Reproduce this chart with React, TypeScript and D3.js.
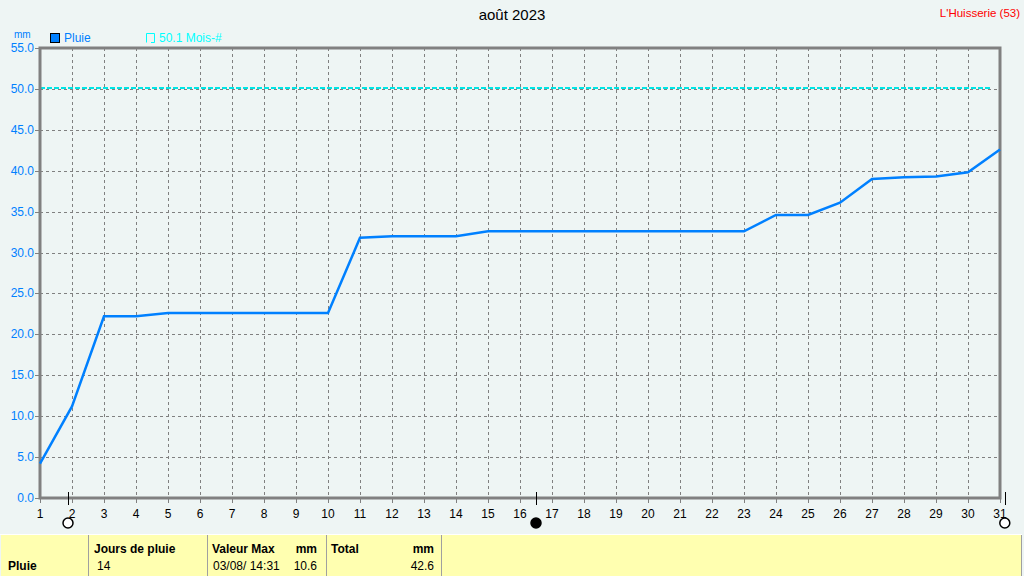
import React from "react";
import * as d3 from "d3";

const days = d3.range(1, 32);
const rain = [4.2, 11.2, 22.2, 22.2, 22.6, 22.6, 22.6, 22.6, 22.6, 22.6, 31.8, 32.0, 32.0, 32.0, 32.6, 32.6, 32.6, 32.6, 32.6, 32.6, 32.6, 32.6, 32.6, 34.6, 34.6, 36.1, 39.0, 39.2, 39.3, 39.8, 42.6];
const normalValue = 50.1;
const yTicks = d3.range(0, 55.01, 5);
const moonPhases = [
  { day: 1.875, filled: false },
  { day: 16.5, filled: true },
  { day: 31.15, filled: false },
];
const tableCols = [
  { header: "Jours de pluie", value: "14" },
];

const W = 1024, H = 576;
const FONT = "'Liberation Sans', Arial, sans-serif";

export default function App() {
  const x = d3.scaleLinear().domain([1, 31]).range([40, 1000]);
  const y = d3.scaleLinear().domain([0, 55]).range([498, 48]);
  const line = d3.line<number>().x((_, i) => x(days[i])).y(d => y(d));
  const grid = "#808080";
  return (
    <svg width={W} height={H} style={{ position: "absolute", left: 0, top: 0, display: "block" }} fontFamily={FONT}>
      <rect x={0} y={0} width={W} height={H} fill="#EEF5F4" />
      <text x={512} y={20} textAnchor="middle" fontSize={15} fill="#000">août 2023</text>
      <text x={1020} y={17} textAnchor="end" fontSize={11.5} fill="#FF0000">L'Huisserie (53)</text>
      <text x={14} y={38} fontSize={10} fill="#0080FF">mm</text>
      <rect x={50.5} y={33.5} width={9} height={9} fill="#0080FF" stroke="#000" />
      <text x={64} y={42} fontSize={12} fill="#0080FF">Pluie</text>
      <path d="M146.5,42.5 V33.5 H154.5 V42.5 M151,42.5 H154.5" fill="none" stroke="#00FFFF" />
      <text x={159} y={42} fontSize={12} fill="#00FFFF">50.1 Mois-#</text>

      {yTicks.map(t => (
        <g key={t}>
          {t > 0 && t < 55 && (
            <line x1={40} x2={1000} y1={Math.round(y(t)) + 0.5} y2={Math.round(y(t)) + 0.5} stroke={grid} strokeDasharray="3,3" />
          )}
          <line x1={35} x2={40} y1={Math.round(y(t)) + 0.5} y2={Math.round(y(t)) + 0.5} stroke={grid} />
          <text x={34} y={y(t) + 4} textAnchor="end" fontSize={12} fill="#0080FF">{t.toFixed(1)}</text>
        </g>
      ))}
      {days.map(d => (
        <g key={d}>
          {d > 1 && d < 31 && (
            <line x1={x(d) + 0.5} x2={x(d) + 0.5} y1={48} y2={498} stroke={grid} strokeDasharray="3,3" />
          )}
          <line x1={x(d) + 0.5} x2={x(d) + 0.5} y1={498} y2={503} stroke={grid} />
          <text x={x(d)} y={518} textAnchor="middle" fontSize={12} fill="#000">{d}</text>
        </g>
      ))}
      <line x1={40} x2={990} y1={y(normalValue)} y2={y(normalValue)} stroke="#00E5E5" strokeWidth={2} strokeDasharray="5,2" />
      <rect x={40} y={48} width={960} height={450} fill="none" stroke={grid} strokeWidth={3} />
      <path d={line(rain) || ""} fill="none" stroke="#0080FF" strokeWidth={2.5} />

      {moonPhases.map((m, i) => (
        <g key={i}>
          <line x1={Math.round(x(m.day)) + 0.5} x2={Math.round(x(m.day)) + 0.5} y1={492} y2={505} stroke="#000" />
          <circle cx={x(m.day)} cy={523} r={5} fill={m.filled ? "#000" : "#fff"} stroke="#000" strokeWidth={1.5} />
        </g>
      ))}

      <rect x={1} y={534} width={1021} height={42} fill="#FFFFB0" />
      <line x1={0} x2={1022} y1={534.5} y2={534.5} stroke="#fff" />
      {[88, 207, 326, 441, 1021].map(cx => (
        <line key={cx} x1={cx + 0.5} x2={cx + 0.5} y1={535} y2={576} stroke="#A0A0A0" />
      ))}
      <text x={8} y={570} fontSize={12} fontWeight="bold">Pluie</text>
      {tableCols.map((c, i) => (
        <g key={i}>
          <text x={94} y={553} fontSize={12} fontWeight="bold">{c.header}</text>
          <text x={97} y={570} fontSize={12}>{c.value}</text>
        </g>
      ))}
      <text x={212} y={553} fontSize={12} fontWeight="bold">Valeur Max</text>
      <text x={317} y={553} fontSize={12} fontWeight="bold" textAnchor="end">mm</text>
      <text x={213} y={570} fontSize={12}>03/08/  14:31</text>
      <text x={317} y={570} fontSize={12} textAnchor="end">10.6</text>
      <text x={331} y={553} fontSize={12} fontWeight="bold">Total</text>
      <text x={434} y={553} fontSize={12} fontWeight="bold" textAnchor="end">mm</text>
      <text x={434} y={570} fontSize={12} textAnchor="end">42.6</text>
    </svg>
  );
}
